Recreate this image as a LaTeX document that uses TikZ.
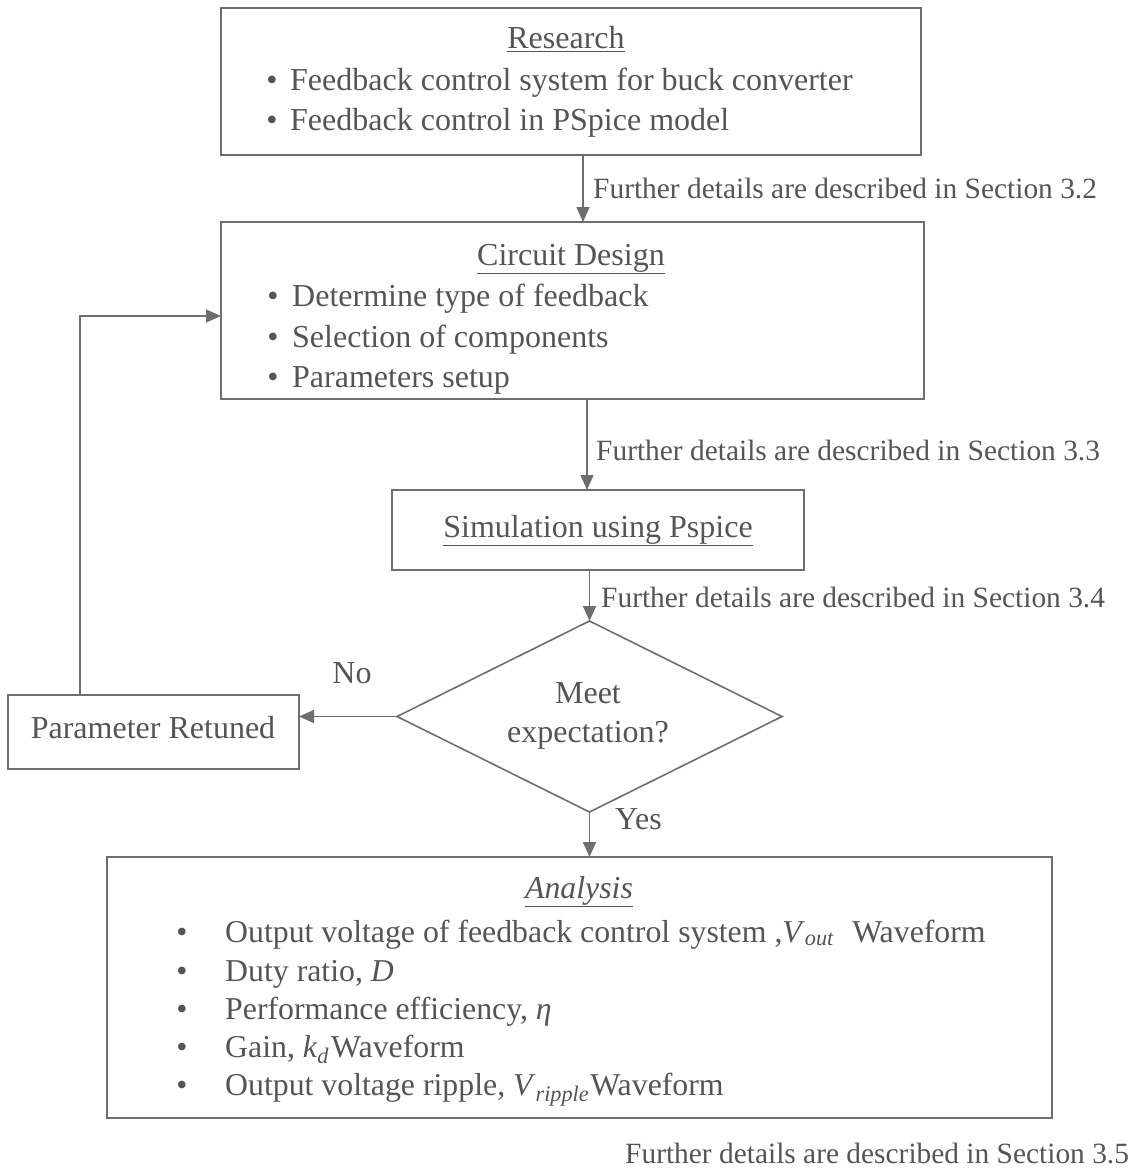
\documentclass[tikz,border=0pt]{standalone}
\usepackage{fontspec}
\setmainfont{Liberation Serif}
\usetikzlibrary{arrows.meta,shapes.geometric,calc}
\definecolor{ink}{HTML}{555555}
\definecolor{edge}{HTML}{6E6E6E}
\begin{document}
\begin{tikzpicture}[x=1pt,y=-1pt,
  box/.style={draw=edge,line width=1.6pt,inner sep=0pt,outer sep=0pt},
  arr/.style={draw=edge,line width=1.6pt,-{Triangle[length=15pt,width=13pt]}},
  txt/.style={text=ink,inner sep=0pt,font=\fontsize{32}{38}\selectfont},
  lab/.style={text=ink,inner sep=0pt,font=\fontsize{29.4}{34}\selectfont},
  ana/.style={text=ink,inner sep=0pt,font=\fontsize{31.8}{36}\selectfont},
]
\useasboundingbox[fill=white] (0,0) rectangle (1139,1169);

% boxes
\node[box,minimum width=700pt,minimum height=147pt] (res) at (571,81.5) {};
\node[box,minimum width=703pt,minimum height=177pt] (cd) at (572.5,310.5) {};
\node[box,minimum width=412pt,minimum height=80pt] (sim) at (598,530) {};
\node[box,diamond,minimum width=385pt,minimum height=191pt] (dia) at (589.5,716.5) {};
\node[box,minimum width=291pt,minimum height=74pt] (pr) at (153.5,732) {};
\node[box,minimum width=945pt,minimum height=261pt] (an) at (579.5,987.5) {};

% Research texts
\node[txt,anchor=base] (rest) at (566,49) {\underline{Research}};
\node[txt,anchor=base] (resb1) at (272,91) {•};
\node[txt,anchor=base west] (rest1) at (290,91) {Feedback control system for buck converter};
\node[txt,anchor=base] (resb2) at (272,131) {•};
\node[txt,anchor=base west] (rest2) at (290,131) {Feedback control in PSpice model};

% Circuit design texts
\node[txt,anchor=base] (cdt) at (571,265) {\underline{Circuit Design}};
\node[txt,anchor=base] (cdb1) at (273,306) {•};
\node[txt,anchor=base west] (cdt1) at (292,306) {Determine type of feedback};
\node[txt,anchor=base] (cdb2) at (273,347) {•};
\node[txt,anchor=base west] (cdt2) at (292,347) {Selection of components};
\node[txt,anchor=base] (cdb3) at (273,387) {•};
\node[txt,anchor=base west] (cdt3) at (292,387) {Parameters setup};

% Simulation
\node[txt,anchor=base] (simt) at (598,537) {\underline{Simulation using Pspice}};

% Diamond
\node[txt,anchor=base] (diat1) at (588,703) {Meet};
\node[txt,anchor=base] (diat2) at (588,742) {expectation?};

% Parameter retuned
\node[txt,anchor=base] (prt) at (153,738) {Parameter Retuned};

% Analysis
\node[ana,anchor=base] (ant) at (579,898) {\underline{\textit{Analysis}}};
\node[ana,anchor=base] (anb1) at (182,942) {•};
\node[ana,anchor=base west] (ant1) at (225,942) {Output voltage of feedback control system ,\textit{V}\textsubscript{\textit{out}}\hspace{10pt} Waveform};
\node[ana,anchor=base] (anb2) at (182,981) {•};
\node[ana,anchor=base west] (ant2) at (225,981) {Duty ratio, \textit{D}};
\node[ana,anchor=base] (anb3) at (182,1019) {•};
\node[ana,anchor=base west] (ant3) at (225,1019) {Performance efficiency, \textit{η}};
\node[ana,anchor=base] (anb4) at (182,1057) {•};
\node[ana,anchor=base west] (ant4) at (225,1057) {Gain, \textit{k}\textsubscript{\textit{d}}\hspace{2pt}Waveform};
\node[ana,anchor=base] (anb5) at (182,1095) {•};
\node[ana,anchor=base west] (ant5) at (225,1095) {Output voltage ripple, \textit{V}\textsubscript{\textit{ripple}}\hspace{1pt}Waveform};

% connectors
\coordinate (c1) at (583,0);
\coordinate (c2) at (587,0);
\coordinate (lp) at (80,316);
\draw[arr] (res.south -| c1) -- (cd.north -| c1);
\draw[arr] (cd.south -| c2) -- (sim.north -| c2);
\draw[arr] (sim.south -| dia.north) -- (dia.north);
\draw[arr] (dia.west) -- (pr.east |- dia.west);
\draw[arr] (dia.south) -- (an.north -| dia.south);
\draw[arr] (pr.north -| lp) -- (lp) -- (cd.west |- lp);

% labels
\node[lab,anchor=base west] (l32) at (593,198) {Further details are described in Section 3.2};
\node[lab,anchor=base west] (l33) at (596,460) {Further details are described in Section 3.3};
\node[lab,anchor=base west] (l34) at (601,607) {Further details are described in Section 3.4};
\node[lab,anchor=base west] (l35) at (625,1163) {Further details are described in Section 3.5};
\node[txt,anchor=base] (no) at (352,683) {No};
\node[txt,anchor=base west] (yes) at (615,829) {Yes};
\end{tikzpicture}
\end{document}
